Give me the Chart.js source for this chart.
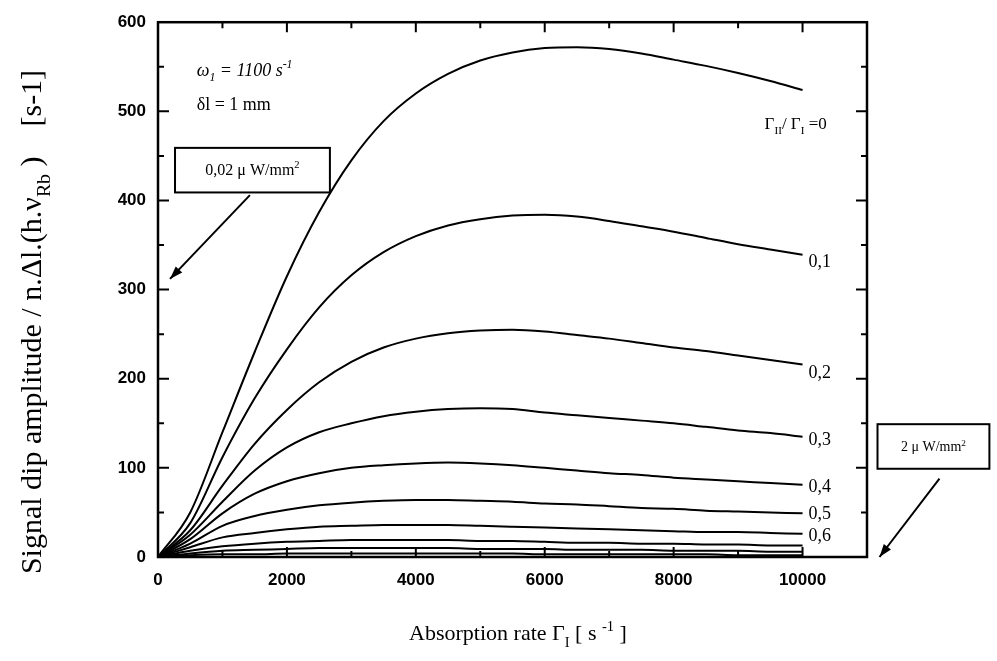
<!DOCTYPE html>
<html><head><meta charset="utf-8">
<script src="https://cdn.jsdelivr.net/npm/chart.js@4.4.0/dist/chart.umd.min.js"></script>
<style>html,body{margin:0;padding:0;background:#fff;}#wrap{width:997px;height:661px;}</style>
</head><body><div id="wrap"><canvas id="c" width="997" height="661"></canvas></div>
<script>
// ---- data ----
const gammaI = [0,500,1000,1500,2000,2500,3000,3500,4000,4500,5000,5500,6000,6500,7000,7500,8000,8500,9000,9500,10000];
const ratioLabels = ['0','0,1','0,2','0,3','0,4','0,5','0,6','0,7','0,8','0,9'];
const sig00 = [0,50,140,230,315,387,445,489,520,542,557,566,571,572,570,565,558,551,543,534,524];
const sig01 = [0,38,112,178,233,280,316,342,360,372,379,383,384,382,377,371,365,358,351,345,339];
const sig02 = [0,30,80,127,165,196,219,235,245,251,254,255,253,249,245,240,235,231,226,221,216];
const sig03 = [0,25,62,97,123,140,150,158,163,166,167,166,162,159,156,153,150,146,142,139,135];
const sig04 = [0,20,49,71,85,94,100,103,105,106,105,103,100,97,94,92,89,87,85,83,81];
const sig05 = [0,15,35,46,53,58,61,63,64,64,63,62,60,59,57,55,54,52,51,50,49];
const sig06 = [0,11,22,27,31,34,35,36,36,36,35,34,33,32,31,30,29,28,28,27,26];
const sig07 = [0,7,12,15,17,18,19,19,19,19,18,18,17,16,16,15,15,14,14,13,13];
const sig08 = [0,4,7,8,9,10,10,10,10,10,9,9,9,8,8,8,7,7,7,6,6];
const sig09 = [0,2,3,3,4,4,4,4,4,4,4,4,3,3,3,3,3,3,2,2,2];
const series = [sig00,sig01,sig02,sig03,sig04,sig05,sig06,sig07,sig08,sig09];
const xTickValues = [0,2000,4000,6000,8000,10000];
const yTickValues = [0,100,200,300,400,500,600];
const xMinorValues = [1000,2000,3000,4000,5000,6000,7000,8000,9000,10000];
const yMinorValues = [50,100,150,200,250,300,350,400,450,500,550];
const labelledRatios = ['0,1','0,2','0,3','0,4','0,5','0,6'];

const SERIF = '"Liberation Serif", "DejaVu Serif", serif';

function rich(ctx, parts, x, y, size, style, align){
  let w = 0;
  const items = parts.map(([t,m]) => {
    const s = m ? size*0.66 : size;
    ctx.font = `${style} ${s}px ${SERIF}`;
    const wd = ctx.measureText(t).width; w += wd;
    return {t,m,s,wd};
  });
  let cx = align==='center' ? x-w/2 : (align==='right' ? x-w : x);
  ctx.textAlign='left'; ctx.textBaseline='alphabetic';
  items.forEach(it => {
    ctx.font = `${style} ${it.s}px ${SERIF}`;
    const dy = it.m===1 ? size*0.3 : (it.m===2 ? -size*0.42 : 0);
    ctx.fillText(it.t, cx, y+dy); cx += it.wd;
  });
  return w;
}
function arrow(ctx, x1,y1,x2,y2){
  ctx.beginPath(); ctx.moveTo(x1,y1); ctx.lineTo(x2,y2); ctx.stroke();
  const ang = Math.atan2(y2-y1,x2-x1), L=13, W=4.5;
  ctx.beginPath();
  ctx.moveTo(x2,y2);
  ctx.lineTo(x2-L*Math.cos(ang)+W*Math.sin(ang), y2-L*Math.sin(ang)-W*Math.cos(ang));
  ctx.lineTo(x2-L*Math.cos(ang)-W*Math.sin(ang), y2-L*Math.sin(ang)+W*Math.cos(ang));
  ctx.closePath(); ctx.fill();
}

const labelShift = {'0,1':12,'0,2':14,'0,3':8,'0,4':7,'0,5':6,'0,6':7};

const deco = {
  id:'deco',
  afterDraw(chart){
    const {ctx, chartArea:a, scales:{x,y}} = chart;
    const X = v => x.getPixelForValue(v), Y = v => y.getPixelForValue(v);
    ctx.save();
    ctx.strokeStyle='#000'; ctx.fillStyle='#000';
    ctx.lineWidth=2.5;
    ctx.strokeRect(a.left,a.top,a.right-a.left,a.bottom-a.top);
    ctx.lineWidth=2;
    ctx.beginPath();
    xMinorValues.forEach(v => {
      const px = X(v), L = v%2000===0 ? 10 : 6;
      ctx.moveTo(px,a.bottom); ctx.lineTo(px,a.bottom-L);
      ctx.moveTo(px,a.top); ctx.lineTo(px,a.top+L);
    });
    yMinorValues.forEach(v => {
      const py = Y(v), L = v%100===0 ? 11 : 6;
      ctx.moveTo(a.left,py); ctx.lineTo(a.left+L,py);
      ctx.moveTo(a.right,py); ctx.lineTo(a.right-L,py);
    });
    ctx.stroke();

    // curve end labels
    labelledRatios.forEach(lbl => {
      const i = ratioLabels.indexOf(lbl);
      const s = series[i];
      rich(ctx, [[lbl,0]], X(10000)+6, Y(s[s.length-1])+labelShift[lbl], 18, 'normal', 'left');
    });
    rich(ctx, [['\u0393',0],['II',1],['/ \u0393',0],['I',1],[' =0',0]], X(9411), Y(480), 17, 'normal', 'left');

    // parameters
    rich(ctx, [['\u03C9',0],['1',1],[' = 1100 s',0],['-1',2]], X(600), Y(540), 18, 'italic', 'left');
    rich(ctx, [['\u03B4l = 1 mm',0]], X(600), Y(502), 18, 'normal', 'left');

    // power boxes
    ctx.lineWidth=2;
    let bx1=X(264), by1=Y(459), bx2=X(2667), by2=Y(409);
    ctx.strokeRect(bx1,by1,bx2-bx1,by2-by1);
    rich(ctx, [['0,02 \u03BC W/mm',0],['2',2]], (bx1+bx2)/2, (by1+by2)/2+5, 16, 'normal', 'center');
    arrow(ctx, X(1426), Y(406), X(186), Y(312));

    bx1=X(11163); by1=Y(149); bx2=X(12899); by2=Y(99);
    ctx.strokeRect(bx1,by1,bx2-bx1,by2-by1);
    rich(ctx, [['2 \u03BC W/mm',0],['2',2]], (bx1+bx2)/2, (by1+by2)/2+5, 14, 'normal', 'center');
    arrow(ctx, X(12124), Y(88), X(11194), Y(0));

    // axis titles
    rich(ctx, [['Absorption rate \u0393',0],['I',1],[' [ s ',0],['-1',2],[' ]',0]], 518, 640, 22, 'normal', 'center');
    ctx.save();
    ctx.translate(31, 322);
    ctx.rotate(-Math.PI/2);
    rich(ctx, [['Signal dip amplitude / n.\u0394l.(h.\u03BD',0],['Rb',1],[' )    [s-1]',0]], 0, 10, 30, 'normal', 'center');
    ctx.restore();
    ctx.restore();
  }
};

const datasets = series.map((s,i) => ({
  label: ratioLabels[i],
  data: gammaI.map((g,j) => ({x:g, y:s[j]})),
  borderColor:'#000', borderWidth:2, pointRadius:0, fill:false,
  cubicInterpolationMode:'monotone'
}));

new Chart(document.getElementById('c'), {
  type:'line',
  data:{datasets},
  plugins:[deco],
  options:{
    responsive:false, devicePixelRatio:1, animation:false,
    layout:{padding:{top:18,right:130,left:0,bottom:0}},
    plugins:{legend:{display:false}, tooltip:{enabled:false}},
    scales:{
      x:{type:'linear', min:0, max:11000,
        afterBuildTicks:s => { s.ticks = xTickValues.map(v=>({value:v})); },
        afterFit:s => { s.height = 104; },
        grid:{display:false, drawTicks:false}, border:{display:false},
        ticks:{padding:13, color:'#000', font:{family:'"Liberation Sans", Arial, sans-serif', size:17, weight:'bold'}, callback:v=>String(v), maxRotation:0}
      },
      y:{type:'linear', min:0, max:600,
        afterBuildTicks:s => { s.ticks = yTickValues.map(v=>({value:v})); },
        afterFit:s => { s.width = 158; },
        grid:{display:false, drawTicks:false}, border:{display:false},
        ticks:{padding:12, color:'#000', font:{family:'"Liberation Sans", Arial, sans-serif', size:17, weight:'bold'}, callback:v=>String(v)}
      }
    }
  }
});
</script></body></html>
